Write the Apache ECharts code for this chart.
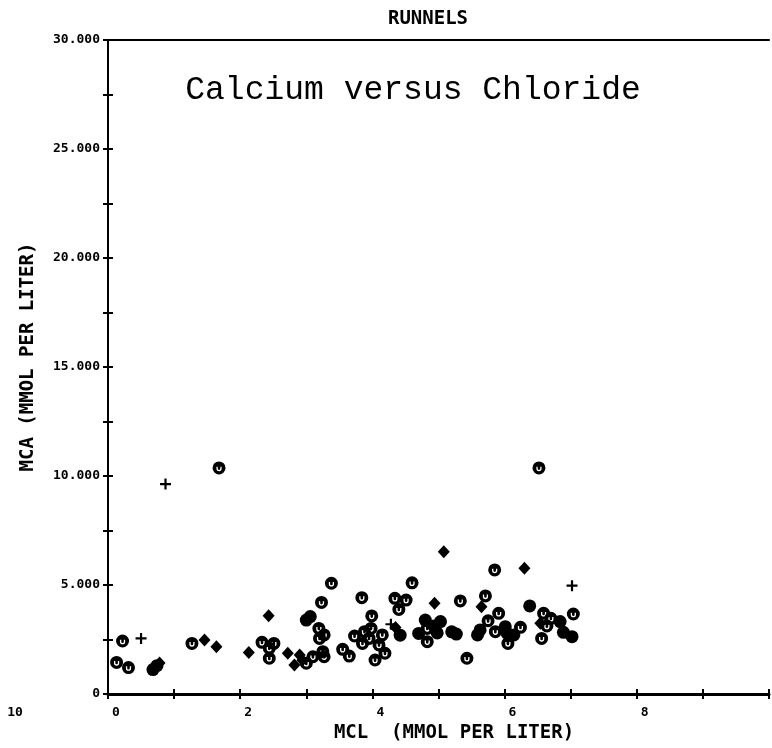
<!DOCTYPE html>
<html>
<head>
<meta charset="utf-8">
<script src="https://cdn.jsdelivr.net/npm/echarts@6/dist/echarts.min.js"></script>
<style>
  html, body { margin: 0; padding: 0; background: #fff; }
  #chart { width: 772px; height: 748px; }
</style>
</head>
<body>
<div id="chart"></div>
<script>
// Samples by plotting symbol: [MCL, MCA] in mmol per liter
const ringPoints = [
  [0.13, 1.45], [0.22, 2.43], [0.31, 1.21], [1.27, 2.32], [1.68, 10.37],
  [2.33, 2.37], [2.51, 2.32], [2.44, 2.10], [2.44, 1.64], [3.00, 1.41],
  [3.10, 1.71], [3.25, 1.94], [3.27, 1.71], [3.19, 3.01], [3.27, 2.71],
  [3.20, 2.55], [3.23, 4.20], [3.38, 5.08], [3.55, 2.05], [3.65, 1.74],
  [3.73, 2.66], [3.88, 2.86], [3.98, 3.01], [3.99, 3.58], [3.85, 2.32],
  [3.95, 2.55], [4.15, 2.71], [4.10, 2.25], [4.19, 1.87], [4.04, 1.56],
  [3.84, 4.42], [4.34, 4.39], [4.51, 4.31], [4.40, 3.88], [4.60, 5.10],
  [4.83, 3.01], [4.83, 2.40], [5.33, 4.27], [5.43, 1.64], [5.71, 4.50],
  [5.85, 5.69], [5.91, 3.70], [5.75, 3.36], [5.86, 2.86], [6.05, 2.32],
  [6.24, 3.06], [6.52, 10.37], [6.59, 3.70], [6.70, 3.47], [6.56, 2.55],
  [6.64, 3.12], [7.04, 3.67]
];
const dotPoints = [
  [0.68, 1.12], [0.74, 1.30], [3.00, 3.39], [3.06, 3.55], [4.42, 2.70],
  [4.70, 2.78], [4.80, 3.39], [4.93, 3.12], [5.03, 3.32], [4.98, 2.80],
  [5.20, 2.85], [5.27, 2.75], [5.59, 2.71], [5.63, 2.94], [6.01, 3.09],
  [6.04, 2.78], [6.14, 2.71], [6.38, 4.04], [6.84, 3.32], [6.89, 2.83],
  [7.02, 2.63]
];
const diamondPoints = [
  [0.78, 1.42], [1.46, 2.48], [1.64, 2.17], [2.13, 1.90], [2.43, 3.59],
  [2.72, 1.87], [2.90, 1.79], [2.82, 1.33], [2.94, 1.55], [4.35, 3.05],
  [4.94, 4.16], [5.08, 6.53], [5.65, 4.00], [6.30, 5.77], [6.54, 3.24]
];
const plusPoints = [
  [0.50, 2.55], [0.87, 9.63], [4.28, 3.20], [7.02, 4.97]
];

// Axis ranges and labelled ticks
const xRange = [0, 10];
const yRange = [0, 30];
const xLabelled = [0, 2, 4, 6, 8];
const yLabelled = [0, 5, 10, 15, 20, 25, 30];

const chartTitle = 'RUNNELS';
const chartSubtitle = 'Calcium versus Chloride';
const xName = 'MCL  (MMOL PER LITER)';
const yName = 'MCA (MMOL PER LITER)';

// Black disc with a small "u" cut out of it
const RING = 'path://M10,0A10,10,0,1,0,10,20A10,10,0,1,0,10,0Z' +
             'M6,8L8,8L8,11A2,2,0,0,0,12,11L12,8L14,8L14,11A4,4,0,0,1,6,11Z';
const PLUS = 'path://M4,0L6,0L6,4L10,4L10,6L6,6L6,10L4,10L4,6L0,6L0,4L4,4Z';

const MONO = 'DejaVu Sans Mono';
const INK = '#000';
const markStyle = { color: INK, opacity: 1 };

const chart = echarts.init(document.getElementById('chart'), null, { renderer: 'canvas' });

const tickLine = { color: INK, width: 2 };

chart.setOption({
  animation: false,
  backgroundColor: '#fff',
  grid: { left: 108, right: 1, top: 40, bottom: 54, containLabel: false },
  xAxis: [
    {
      type: 'value', min: xRange[0], max: xRange[1], interval: 1, position: 'bottom',
      axisLine: { show: true, lineStyle: { color: INK, width: 3 } },
      axisTick: { show: true, inside: false, length: 5, lineStyle: tickLine },
      splitLine: { show: false },
      axisLabel: {
        color: INK, fontFamily: MONO, fontWeight: 'bold', fontSize: 13,
        margin: 12, align: 'left', padding: [0, 0, 0, 4],
        formatter: v => (xLabelled.indexOf(v) >= 0 ? String(v) : '')
      }
    },
    {
      type: 'value', min: xRange[0], max: xRange[1], interval: 1, position: 'bottom',
      axisLine: { show: false },
      axisTick: { show: true, inside: true, length: 5, lineStyle: tickLine },
      axisLabel: { show: false }, splitLine: { show: false }
    },
    {
      type: 'value', min: xRange[0], max: xRange[1], position: 'top',
      axisLine: { show: true, lineStyle: { color: INK, width: 2 } },
      axisTick: { show: false }, axisLabel: { show: false }, splitLine: { show: false }
    }
  ],
  yAxis: [
    {
      type: 'value', min: yRange[0], max: yRange[1], interval: 2.5, position: 'left',
      axisLine: { show: true, lineStyle: { color: INK, width: 2 } },
      axisTick: { show: true, inside: false, length: 5, lineStyle: tickLine },
      splitLine: { show: false },
      axisLabel: {
        color: INK, fontFamily: MONO, fontWeight: 'bold', fontSize: 13, margin: 8,
        formatter: v => (yLabelled.indexOf(v) >= 0 ? (v === 0 ? '0' : v.toFixed(3)) : '')
      }
    },
    {
      type: 'value', min: yRange[0], max: yRange[1], interval: 2.5, position: 'left',
      axisLine: { show: false },
      axisTick: { show: true, inside: true, length: 5, lineStyle: tickLine },
      axisLabel: { show: false }, splitLine: { show: false }
    }
  ],
  series: [
    { type: 'scatter', data: dotPoints, symbol: 'circle', symbolSize: 13,
      itemStyle: markStyle, silent: true },
    { type: 'scatter', data: ringPoints, symbol: RING, symbolSize: 13,
      itemStyle: markStyle, silent: true },
    { type: 'scatter', data: diamondPoints, symbol: 'diamond', symbolSize: [12, 13],
      itemStyle: markStyle, silent: true },
    { type: 'scatter', data: plusPoints, symbol: PLUS, symbolSize: 11,
      itemStyle: markStyle, silent: true }
  ],
  graphic: [
    { type: 'text', x: 428, y: 19,
      style: { text: chartTitle, font: 'bold 19px "' + MONO + '"', fill: INK, align: 'center', verticalAlign: 'middle' } },
    { type: 'text', x: 413, y: 90,
      style: { text: chartSubtitle, font: '33px "Liberation Mono"', fill: INK, align: 'center', verticalAlign: 'middle' } },
    { type: 'text', x: 28, y: 357, rotation: Math.PI / 2,
      style: { text: yName, font: 'bold 19px "' + MONO + '"', fill: INK, align: 'center', verticalAlign: 'middle' } },
    { type: 'text', x: 454, y: 733,
      style: { text: xName, font: 'bold 19px "' + MONO + '"', fill: INK, align: 'center', verticalAlign: 'middle' } },
    { type: 'text', x: 15, y: 713,
      style: { text: '10', font: 'bold 13px "' + MONO + '"', fill: INK, align: 'center', verticalAlign: 'middle' } }
  ]
});
</script>
</body>
</html>
